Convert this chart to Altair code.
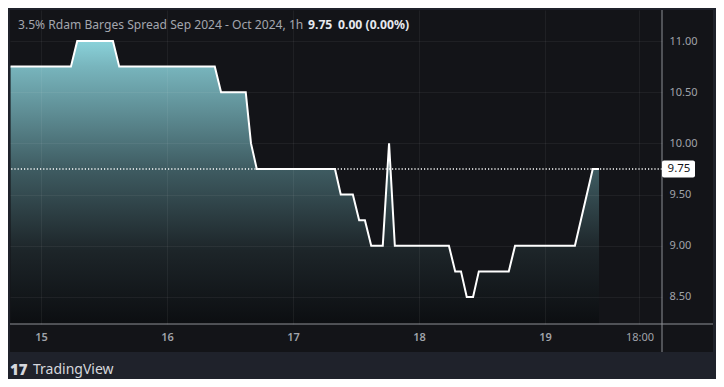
import altair as alt
import pandas as pd

# ---------------- data ----------------
TITLE = "3.5% Rdam Barges Spread Sep 2024 - Oct 2024, 1h"
LAST_TXT = "9.75"
CHANGE_TXT = "0.00 (0.00%)"
LAST = 9.75

times = [
    "2024-09-14T18:12:00Z", "2024-09-15T05:42:00Z", "2024-09-15T06:54:00Z",
    "2024-09-15T13:42:00Z", "2024-09-15T14:54:00Z", "2024-09-16T09:06:00Z",
    "2024-09-16T10:18:00Z", "2024-09-16T15:00:00Z", "2024-09-16T16:00:00Z",
    "2024-09-16T17:06:00Z", "2024-09-17T08:00:00Z", "2024-09-17T09:06:00Z",
    "2024-09-17T11:24:00Z", "2024-09-17T12:36:00Z", "2024-09-17T13:42:00Z",
    "2024-09-17T14:54:00Z", "2024-09-17T17:06:00Z", "2024-09-17T18:18:00Z",
    "2024-09-17T19:24:00Z", "2024-09-18T05:42:00Z", "2024-09-18T06:54:00Z",
    "2024-09-18T08:00:00Z", "2024-09-18T09:06:00Z", "2024-09-18T10:18:00Z",
    "2024-09-18T11:24:00Z", "2024-09-18T17:06:00Z", "2024-09-18T18:18:00Z",
    "2024-09-19T05:42:00Z", "2024-09-19T09:06:00Z", "2024-09-19T10:18:00Z",
]
values = [
    10.75, 10.75, 11.00,
    11.00, 10.75, 10.75,
    10.50, 10.50, 10.00,
    9.75, 9.75, 9.50,
    9.50, 9.25, 9.25,
    9.00, 9.00, 10.00,
    9.00, 9.00, 8.75,
    8.75, 8.50, 8.50,
    8.75, 8.75, 9.00,
    9.00, 9.75, 9.75,
]
y_ticks = [8.5, 9.0, 9.5, 10.0, 10.5, 11.0]
x_ticks = [
    "2024-09-15T00:00:00Z", "2024-09-16T00:00:00Z", "2024-09-17T00:00:00Z",
    "2024-09-18T00:00:00Z", "2024-09-19T00:00:00Z", "2024-09-19T18:00:00Z",
]

# ---------------- layout / style ----------------
def ms(s):
    return int(pd.Timestamp(s).value // 10**6)

X_DOMAIN = [ms("2024-09-14T18:05:40Z"), ms("2024-09-19T22:17:25Z")]
Y_MIN, Y_MAX = 8.236, 11.303
W, H = 652, 314

OUTER = "#1f222b"
PANEL = "#131418"
BORDER = "#8e9096"
LABEL = "#a0a3aa"
FONT = "Noto Sans"

df = pd.DataFrame({"t": times, "v": values})
one = pd.DataFrame({"a": [0]})

xenc = alt.X(
    "t:T",
    scale=alt.Scale(type="utc", domain=X_DOMAIN, nice=False),
    axis=alt.Axis(
        values=[ms(s) for s in x_ticks],
        labelExpr="utchours(datum.value) == 0 ? utcFormat(datum.value, '%-d') : utcFormat(datum.value, '%H:%M')",
        labelFontWeight={"condition": {"test": "utchours(datum.value) == 0", "value": 600}, "value": 400},
        title=None, orient="bottom", zindex=1,
        labelPadding=7, labelAlign="center", labelBaseline="top",
    ),
)
yscale = alt.Scale(domain=[Y_MIN, Y_MAX], nice=False, zero=False)
yenc = alt.Y(
    "v:Q", scale=yscale,
    axis=alt.Axis(values=y_ticks, format=".2f", title=None, orient="right", zindex=1,
                  labelAlign="left", labelPadding=7, labelBaseline="middle"),
)

panel = alt.Chart(one).mark_rect(color=PANEL).encode(
    x=alt.value(0), x2=alt.value(703), y=alt.value(0), y2=alt.value(342)
)

gradient = alt.Gradient(
    gradient="linear",
    stops=[
        alt.GradientStop(color="#8ad2da", offset=0),
        alt.GradientStop(color="#78b5bd", offset=0.09),
        alt.GradientStop(color="#3e5b61", offset=0.456),
        alt.GradientStop(color="#1d2529", offset=0.74),
        alt.GradientStop(color="#0c0e11", offset=1),
    ],
    x1=0, x2=0, y1=0, y2=1,
)

area = alt.Chart(df).mark_area(color=gradient, interpolate="linear").encode(
    x=xenc, y=yenc, y2=alt.datum(Y_MIN)
)
line = alt.Chart(df).mark_line(color="#ffffff", strokeWidth=2, strokeJoin="miter").encode(
    x="t:T", y="v:Q"
)

last_rule = alt.Chart(one).mark_rule(color="#ffffff", strokeDash=[1.2, 2], strokeWidth=1.3).encode(
    y=alt.datum(LAST)
)

vborder = alt.Chart(one).mark_rule(color=BORDER, strokeWidth=1).encode(
    x=alt.value(W), y=alt.value(0), y2=alt.value(342)
)
hborder = alt.Chart(one).mark_rule(color=BORDER, strokeWidth=1).encode(
    y=alt.value(H), x=alt.value(0), x2=alt.value(703)
)

tag = alt.Chart(one).mark_rect(color="#ffffff", cornerRadius=2, yOffset=-8.5, y2Offset=8.5).encode(
    x=alt.value(W), x2=alt.value(W + 33), y=alt.datum(LAST), y2=alt.datum(LAST)
)
tag_text = alt.Chart(one).mark_text(
    text=LAST_TXT, color="#131418", font=FONT, fontSize=11.5, align="center", baseline="middle"
).encode(x=alt.value(W + 17), y=alt.datum(LAST))

title = alt.Chart(one).mark_text(
    text=TITLE, color="#a3a6ae", font=FONT, fontSize=12.1, align="left", baseline="middle"
).encode(x=alt.value(8), y=alt.value(15))
last_txt = alt.Chart(one).mark_text(
    text=LAST_TXT, color="#e6e8ee", font=FONT, fontSize=12.2, fontWeight="bold",
    align="left", baseline="middle"
).encode(x=alt.value(298), y=alt.value(15))
chg_txt = alt.Chart(one).mark_text(
    text=CHANGE_TXT, color="#e6e8ee", font=FONT, fontSize=12.2, fontWeight="bold",
    align="left", baseline="middle"
).encode(x=alt.value(328), y=alt.value(15))

logo = alt.Chart(one).mark_text(
    text="17", color="#d5d7dd", font=FONT, fontSize=15, fontWeight=900,
    align="left", baseline="middle"
).encode(x=alt.value(0), y=alt.value(360))
brand = alt.Chart(one).mark_text(
    text="TradingView", color="#d5d7dd", font=FONT, fontSize=14,
    align="left", baseline="middle"
).encode(x=alt.value(23), y=alt.value(360))

chart = alt.layer(
    panel, area, line, last_rule, vborder, hborder, tag, tag_text,
    title, last_txt, chg_txt, logo, brand,
).properties(
    width=W, height=H,
    padding={"left": 2, "top": 2, "right": 54, "bottom": 55},
    autosize=alt.AutoSizeParams(type="none"),
    background=OUTER,
).configure_view(stroke=None).configure_axis(
    grid=True, gridColor="#ffffff", gridOpacity=0.055, gridWidth=1,
    domain=False, ticks=False, labelColor=LABEL, labelFont=FONT, labelFontSize=11,
)

chart.save("out.html", embed_options={"renderer": "svg", "actions": False})
